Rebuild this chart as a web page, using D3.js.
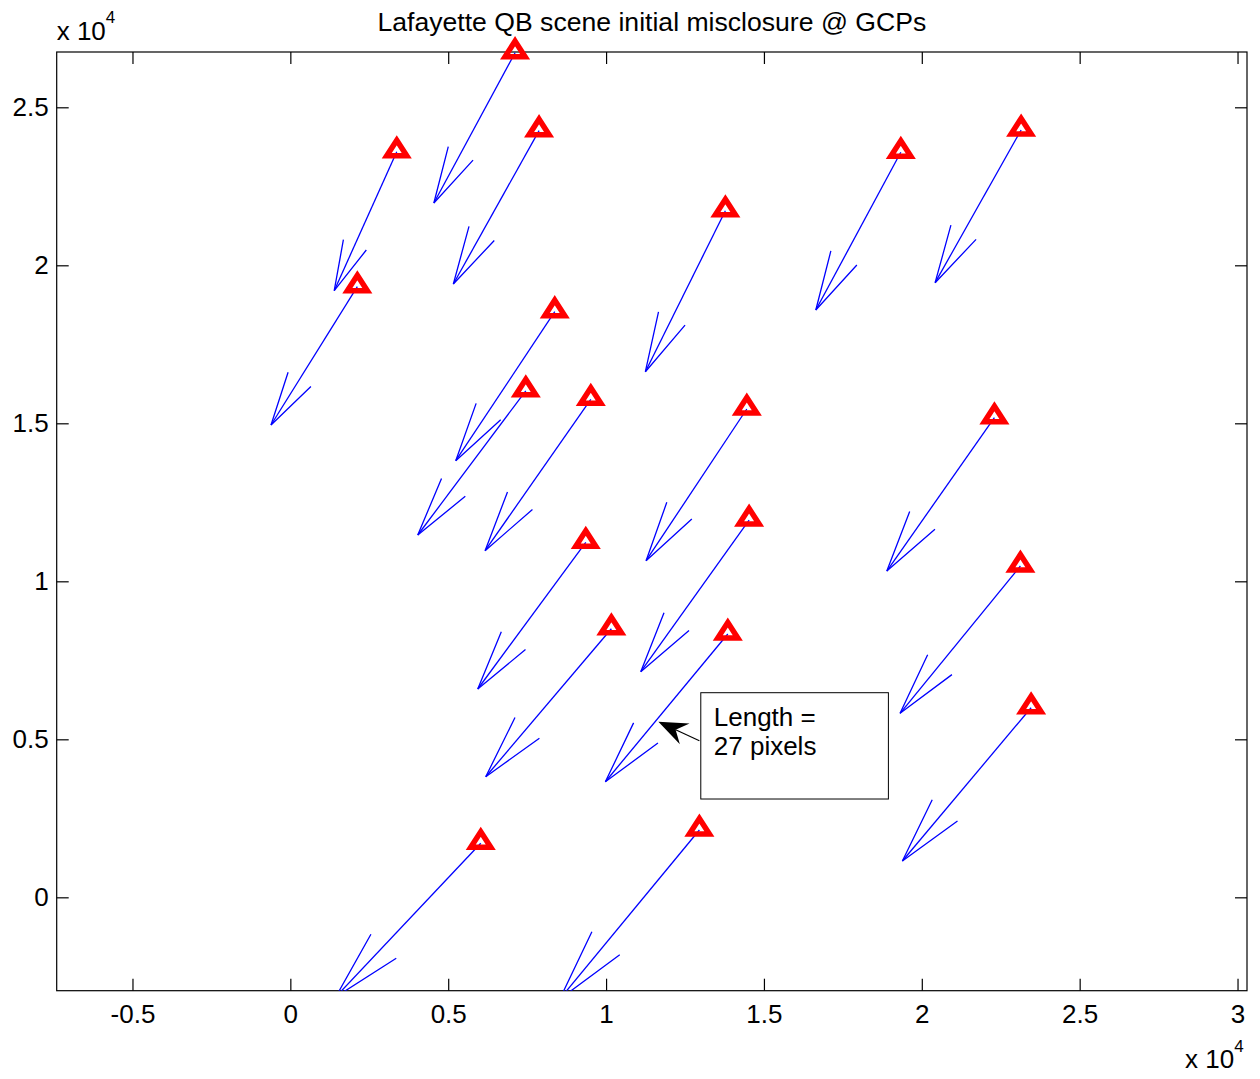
<!DOCTYPE html>
<html><head><meta charset="utf-8">
<script src="https://cdn.jsdelivr.net/npm/d3@7"></script>
<style>
body{margin:0;background:#fff}
svg{display:block}
text{font-family:"Liberation Sans",Arial,Helvetica,sans-serif;fill:#000}
</style>
</head><body>
<svg id="chart" width="1260" height="1079"></svg>
<script>
// GCP positions (data units) and drawn misclosure vectors (data units)
const gcpX = [7118, 3370, 7878, 2122, 13779, 19335, 23146, 8375, 7457, 9516, 14457, 22300, 9357, 14530, 23123, 10168, 13855, 23462, 6031, 12955];
const gcpY = [26728, 23595, 24260, 19323, 21728, 23576, 24282, 18532, 16029, 15760, 15453, 15177, 11234, 11940, 10484, 8500, 8332, 6000, 1709, 2130];
const vecU = [-2572, -1980, -2715, -2734, -2534, -2692, -2724, -3136, -3421, -3348, -3190, -3408, -3421, -3431, -3811, -3979, -3877, -4077, -4593, -4422];
const vecV = [-4756, -4399, -4851, -4377, -5095, -4991, -4832, -4715, -4563, -4791, -4801, -4851, -4642, -4801, -4661, -4684, -4674, -4851, -4861, -5351];

const xTicks = [-5000, 0, 5000, 10000, 15000, 20000, 25000, 30000];
const xTickLabels = ["-0.5", "0", "0.5", "1", "1.5", "2", "2.5", "3"];
const yTicks = [0, 5000, 10000, 15000, 20000, 25000];
const yTickLabels = ["0", "0.5", "1", "1.5", "2", "2.5"];
const xDomain = [-7400, 30300];
const yDomain = [-2955, 26750];

const titleText = "Lafayette QB scene initial misclosure @ GCPs";
const noteLines = ["Length =", "27 pixels"];
const noteBox = [13000, 6475, 18942, 3111];   // x0, yTop, x1, yBottom (data units)
const noteArrow = [12956, 4956, 11657, 5557]; // tail x,y -> tip x,y (data units)

const L = 56.7, R = 1247, T = 52, B = 990.7;
const FS = 26;
const svg = d3.select("#chart");
const x = d3.scaleLinear().domain(xDomain).range([L, R]);
const y = d3.scaleLinear().domain(yDomain).range([B, T]);

svg.append("defs").append("clipPath").attr("id", "clip")
  .append("rect").attr("x", L).attr("y", T).attr("width", R - L).attr("height", B - T);

// axes box
svg.append("rect").attr("x", L).attr("y", T).attr("width", R - L).attr("height", B - T)
  .attr("fill", "#fff").attr("stroke", "#000").attr("stroke-width", 1.2);

const tk = 12;
const axB = d3.axisBottom(x).tickValues(xTicks).tickFormat((d, i) => xTickLabels[i]).tickSizeInner(-tk).tickSizeOuter(0).tickPadding(14);
const axT = d3.axisTop(x).tickValues(xTicks).tickFormat("").tickSizeInner(-tk).tickSizeOuter(0);
const axL = d3.axisLeft(y).tickValues(yTicks).tickFormat((d, i) => yTickLabels[i]).tickSizeInner(-tk).tickSizeOuter(0).tickPadding(8);
const axR = d3.axisRight(y).tickValues(yTicks).tickFormat("").tickSizeInner(-tk).tickSizeOuter(0);

function styleAxis(g) {
  g.select(".domain").remove();
  g.selectAll(".tick line").attr("stroke", "#000").attr("stroke-width", 1.2);
  g.selectAll(".tick text").attr("font-size", FS).attr("font-family", '"Liberation Sans",Arial,sans-serif').attr("fill", "#000");
}
svg.append("g").attr("transform", `translate(0,${B})`).call(axB).call(styleAxis);
svg.append("g").attr("transform", `translate(0,${T})`).call(axT).call(styleAxis);
svg.append("g").attr("transform", `translate(${L},0)`).call(axL).call(styleAxis);
svg.append("g").attr("transform", `translate(${R},0)`).call(axR).call(styleAxis);

// exponent labels
const expTL = svg.append("text").attr("x", L).attr("y", 40).attr("font-size", FS);
expTL.append("tspan").text("x 10");
expTL.append("tspan").attr("dy", -17).attr("font-size", 17).text("4");
const expBR = svg.append("text").attr("x", 1185).attr("y", 1068).attr("font-size", FS);
expBR.append("tspan").text("x 10");
expBR.append("tspan").attr("dy", -16).attr("font-size", 17).text("4");

// title
svg.append("text").attr("x", (L + R) / 2).attr("y", 31).attr("text-anchor", "middle")
  .attr("font-size", 26.6).text(titleText);

// quiver arrows (MATLAB style heads)
const alpha = 0.33, beta = 0.25;
const arrows = gcpX.map((gx, i) => ({x: gx, y: gcpY[i], u: vecU[i], v: vecV[i]}));
const qg = svg.append("g").attr("clip-path", "url(#clip)")
  .attr("stroke", "#0000ff").attr("stroke-width", 1.3).attr("fill", "none");
arrows.forEach(a => {
  const tx = a.x + a.u, ty = a.y + a.v;
  qg.append("line").attr("x1", x(a.x)).attr("y1", y(a.y)).attr("x2", x(tx)).attr("y2", y(ty));
  const h1x = tx - alpha * (a.u + beta * a.v), h1y = ty - alpha * (a.v - beta * a.u);
  const h2x = tx - alpha * (a.u - beta * a.v), h2y = ty - alpha * (a.v + beta * a.u);
  qg.append("path").attr("d", `M${x(h1x)},${y(h1y)}L${x(tx)},${y(ty)}L${x(h2x)},${y(h2y)}`);
});

// GCP triangle markers
svg.append("g").selectAll("path").data(arrows).join("path")
  .attr("transform", d => `translate(${x(d.x)},${y(d.y)})`)
  .attr("d", "M0,-11.5L10,4L-10,4Z")
  .attr("fill", "none").attr("stroke", "#ff0000").attr("stroke-width", 5.5)
  .attr("stroke-linejoin", "miter");

// annotation
const bx0 = x(noteBox[0]), by0 = y(noteBox[1]), bx1 = x(noteBox[2]), by1 = y(noteBox[3]);
svg.append("rect").attr("x", bx0).attr("y", by0).attr("width", bx1 - bx0).attr("height", by1 - by0)
  .attr("fill", "#fff").attr("stroke", "#000").attr("stroke-width", 1);
noteLines.forEach((t, i) => {
  svg.append("text").attr("x", bx0 + 13).attr("y", by0 + 33 + i * 29.5).attr("font-size", FS).text(t);
});
const ax0 = x(noteArrow[0]), ay0 = y(noteArrow[1]), ax1 = x(noteArrow[2]), ay1 = y(noteArrow[3]);
const ang = Math.atan2(ay1 - ay0, ax1 - ax0);
const hl = 29, hw = 11.5, notch = 19;
svg.append("line").attr("x1", ax0).attr("y1", ay0)
  .attr("x2", ax1 - Math.cos(ang) * notch).attr("y2", ay1 - Math.sin(ang) * notch)
  .attr("stroke", "#000").attr("stroke-width", 1.2);
svg.append("path")
  .attr("transform", `translate(${ax1},${ay1}) rotate(${ang * 180 / Math.PI})`)
  .attr("d", `M0,0L${-hl},${-hw}L${-notch},0L${-hl},${hw}Z`)
  .attr("fill", "#000");
</script>
</body></html>
